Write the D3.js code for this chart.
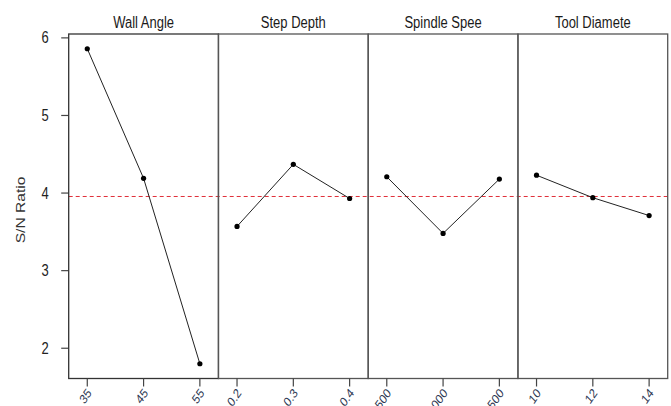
<!DOCTYPE html>
<html lang="en">
<head>
<meta charset="UTF-8" />
<title>Main effects plot for S/N ratios</title>
<style>
  body { margin: 0; background: #fff; }
  svg { display: block; font-family: "Liberation Sans", Arial, sans-serif; }
</style>
<script src="https://cdn.jsdelivr.net/npm/d3@7"></script>
</head>
<body>
<svg id="chart" width="671" height="406"></svg>
<script>
// factor names (truncated as in the original), levels and mean S/N ratios
const factors = ["Wall Angle", "Step Depth", "Spindle Spee", "Tool Diamete"];
const levels = [
  ["35", "45", "55"],
  ["0.2", "0.3", "0.4"],
  ["1500", "2000", "2500"],
  ["10", "12", "14"]
];
const snValues = [
  [5.86, 4.19, 1.80],
  [3.57, 4.37, 3.93],
  [4.21, 3.48, 4.18],
  [4.23, 3.94, 3.71]
];
const yTicks = [2, 3, 4, 5, 6];

const m = { left: 68.7, right: 667.7, top: 34, bottom: 378.5 };
const stretch = 1.2; // source picture is squashed horizontally

const svg = d3.select("#chart");

const y = d3.scaleLinear().domain([1.61, 6.05]).range([m.bottom, m.top]);
const panel = d3.scaleBand().domain(factors).range([m.left, m.right]).padding(0);

const grand = d3.mean(snValues.flat());

// y axis ticks + labels
yTicks.forEach(t => {
  svg.append("line")
    .attr("x1", m.left - 7.5).attr("x2", m.left)
    .attr("y1", y(t)).attr("y2", y(t))
    .attr("stroke", "#444").attr("stroke-width", 1.2);
  svg.append("text")
    .attr("transform", `translate(${m.left - 20},${y(t)}) scale(1,${stretch})`)
    .attr("text-anchor", "end")
    .attr("dy", "0.36em")
    .attr("font-size", 13)
    .attr("fill", "#222")
    .text(t);
});

svg.append("text")
  .attr("transform", `translate(25,210) scale(1,${stretch}) rotate(-90)`)
  .attr("text-anchor", "middle")
  .attr("font-size", 13)
  .attr("fill", "#333")
  .text("S/N Ratio");

// reference line (grand mean)
svg.append("line")
  .attr("x1", m.left).attr("x2", m.right)
  .attr("y1", y(grand)).attr("y2", y(grand))
  .attr("stroke", "#e0303a").attr("stroke-width", 1)
  .attr("stroke-dasharray", "4,3");

factors.forEach((f, i) => {
  const x0 = panel(f), pw = panel.bandwidth();
  const x = d3.scalePoint().domain(levels[i]).range([x0, x0 + pw]).padding(0.33);

  // panel frame
  svg.append("rect")
    .attr("x", x0).attr("y", m.top)
    .attr("width", pw).attr("height", m.bottom - m.top)
    .attr("fill", "none").attr("stroke", i === 0 ? "#333" : "#555").attr("stroke-width", 1.3);

  // title
  svg.append("text")
    .attr("transform", `translate(${x0 + pw / 2},27.5) scale(1,${stretch})`)
    .attr("text-anchor", "middle")
    .attr("font-size", 13)
    .attr("fill", "#1a1a1a")
    .text(f);

  // x ticks + rotated labels
  levels[i].forEach(l => {
    const xx = x(l);
    svg.append("line")
      .attr("x1", xx).attr("x2", xx)
      .attr("y1", m.bottom).attr("y2", m.bottom + 8)
      .attr("stroke", "#444").attr("stroke-width", 1.2);
    svg.append("text")
      .attr("transform", `translate(${xx + 5},${m.bottom + 15}) scale(1,${stretch}) rotate(-50)`)
      .attr("text-anchor", "end")
      .attr("font-size", 11)
      .attr("fill", "#2a3550")
      .text(l);
  });

  const pts = levels[i].map((l, j) => [x(l), y(snValues[i][j])]);
  svg.append("path")
    .attr("d", d3.line()(pts))
    .attr("fill", "none").attr("stroke", "#222").attr("stroke-width", 1);
  svg.selectAll(null).data(pts).enter().append("circle")
    .attr("cx", d => d[0]).attr("cy", d => d[1])
    .attr("r", 2.6).attr("fill", "#000");
});
</script>
</body>
</html>
